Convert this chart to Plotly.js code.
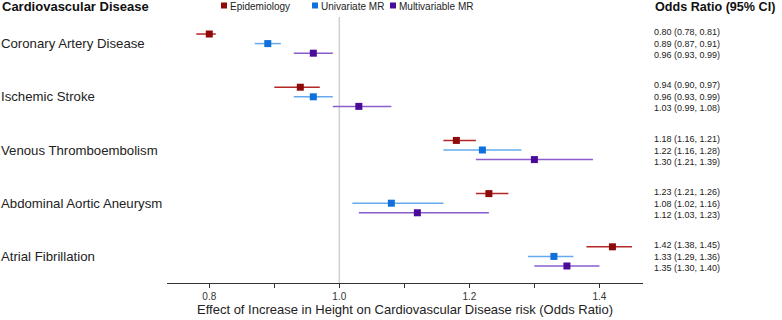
<!DOCTYPE html>
<html>
<head>
<meta charset="utf-8">
<script src="https://cdn.plot.ly/plotly-3.0.1.min.js"></script>
<style>
  html, body { margin: 0; padding: 0; background: #fff; }
  #chart { width: 782px; height: 320px; }
</style>
</head>
<body>
<div id="chart"></div>
<script>
// Outcomes, top to bottom
const diseases = [
  "Coronary Artery Disease",
  "Ischemic Stroke",
  "Venous Thromboembolism",
  "Abdominal Aortic Aneurysm",
  "Atrial Fibrillation"
];

// Odds ratios with 95% confidence intervals
const epiOR  = [0.80, 0.94, 1.18, 1.23, 1.42];
const epiLo  = [0.78, 0.90, 1.16, 1.21, 1.38];
const epiHi  = [0.81, 0.97, 1.21, 1.26, 1.45];

const uniOR  = [0.89, 0.96, 1.22, 1.08, 1.33];
const uniLo  = [0.87, 0.93, 1.16, 1.02, 1.29];
const uniHi  = [0.91, 0.99, 1.28, 1.16, 1.36];

const mvOR   = [0.96, 1.03, 1.30, 1.12, 1.35];
const mvLo   = [0.93, 0.99, 1.21, 1.03, 1.30];
const mvHi   = [0.99, 1.08, 1.39, 1.23, 1.40];

const seriesNames = ["Epidemiology", "Univariate MR", "Multivariable MR"];

// x axis ticks every 0.1, labelled every 0.2
const tickVals = [0.8, 0.9, 1.0, 1.1, 1.2, 1.3, 1.4];
const tickText = ["0.8", "", "1.0", "", "1.2", "", "1.4"];

// ---- layout geometry (pixels) ----
const W = 782, H = 320;
const M = { l: 167, r: 139, t: 17, b: 37 };
const PW = W - M.l - M.r, PH = H - M.t - M.b;
const px = x => (x - M.l) / PW;        // pixel -> paper x
const py = y => 1 - (y - M.t) / PH;    // pixel -> paper y

const FONT = "Liberation Sans, Arial, sans-serif";

const series = [
  { name: seriesNames[0], or: epiOR, lo: epiLo, hi: epiHi, mark: "#8e0a0a", bar: "#b52626", off: -0.18 },
  { name: seriesNames[1], or: uniOR, lo: uniLo, hi: uniHi, mark: "#0f6fdc", bar: "#66aaee", off: 0 },
  { name: seriesNames[2], or: mvOR,  lo: mvLo,  hi: mvHi,  mark: "#4a0a9a", bar: "#8a5ccc", off: 0.18 }
];

const idx = diseases.map((_, i) => i);

const traces = series.map(s => ({
  type: "scatter",
  mode: "markers",
  name: s.name,
  showlegend: false,
  x: s.or,
  y: idx.map(i => i + s.off),
  marker: { symbol: "square", size: 7, color: s.mark },
  error_x: {
    type: "data",
    symmetric: false,
    array: s.or.map((v, i) => s.hi[i] - v),
    arrayminus: s.or.map((v, i) => v - s.lo[i]),
    color: s.bar,
    thickness: 1.5,
    width: 0
  },
  hoverinfo: "x+name"
}));

const fmt = v => v.toFixed(2);
const annotations = [];

// column headers
annotations.push({
  xref: "paper", yref: "paper", x: px(0), y: py(7),
  xanchor: "left", yanchor: "middle", showarrow: false,
  text: "<b>Cardiovascular Disease</b>",
  font: { family: FONT, size: 13, color: "#111" }
});
annotations.push({
  xref: "paper", yref: "paper", x: px(653), y: py(7),
  xanchor: "left", yanchor: "middle", showarrow: false,
  text: "<b>Odds Ratio (95% CI)</b>",
  font: { family: FONT, size: 12.6, color: "#111" }
});

// disease labels and OR (CI) text
diseases.forEach((d, i) => {
  annotations.push({
    xref: "paper", yref: "y", x: px(-1), y: i,
    xanchor: "left", yanchor: "middle", showarrow: false,
    text: d,
    font: { family: FONT, size: 13.2, color: "#222" }
  });
  const lines = series.map(s => `${fmt(s.or[i])} (${fmt(s.lo[i])}, ${fmt(s.hi[i])})`);
  annotations.push({
    xref: "paper", yref: "y", x: px(652), y: i,
    xanchor: "left", yanchor: "middle", align: "left", showarrow: false,
    text: lines.join("<br>"),
    font: { family: FONT, size: 9, color: "#222" }
  });
});

// legend: coloured squares + names
const legendX = [224, 315, 393];
const shapes = [];
series.forEach((s, k) => {
  shapes.push({
    type: "rect", xref: "paper", yref: "paper", layer: "above",
    x0: px(legendX[k] - 3), x1: px(legendX[k] + 3),
    y0: py(8.5), y1: py(2.5),
    fillcolor: s.mark, line: { width: 0 }
  });
  annotations.push({
    xref: "paper", yref: "paper", x: px(legendX[k] + 4), y: py(6.5),
    xanchor: "left", yanchor: "middle", showarrow: false,
    text: s.name,
    font: { family: FONT, size: 10, color: "#222" }
  });
});

// reference line at OR = 1
shapes.push({
  type: "line", xref: "x", yref: "paper", layer: "below",
  x0: 1, x1: 1, y0: 0, y1: 1,
  line: { color: "#d0d0d0", width: 1.5 }
});

const layout = {
  width: W, height: H,
  margin: M,
  paper_bgcolor: "#fff", plot_bgcolor: "#fff",
  showlegend: false,
  font: { family: FONT, color: "#222" },
  xaxis: {
    range: [0.735, 1.467],
    tickvals: tickVals, ticktext: tickText,
    ticks: "outside", ticklen: 4, tickwidth: 1, tickcolor: "#333",
    showline: true, linecolor: "#333", linewidth: 1,
    showgrid: false, zeroline: false,
    tickfont: { size: 10, color: "#333" },
    automargin: false,
    title: {
      text: "Effect of Increase in Height on Cardiovascular Disease risk (Odds Ratio)",
      font: { size: 13, color: "#222" },
      standoff: 1
    }
  },
  yaxis: {
    range: [4.5, -0.5],
    visible: false, showgrid: false, zeroline: false, fixedrange: true
  },
  shapes: shapes,
  annotations: annotations
};

Plotly.newPlot("chart", traces, layout, { displayModeBar: false, staticPlot: true });
</script>
</body>
</html>
